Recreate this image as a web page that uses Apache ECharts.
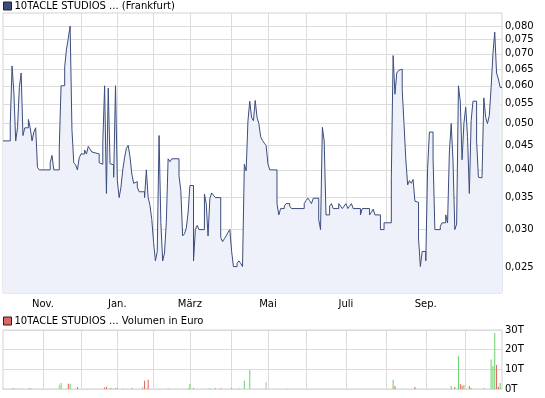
<!DOCTYPE html>
<html><head><meta charset="utf-8">
<script src="https://cdn.jsdelivr.net/npm/echarts@6/dist/echarts.min.js"></script>
<style>html,body{margin:0;padding:0;background:#fff}#c{width:545px;height:398px}</style>
</head><body><div id="c"></div>
<script>
// Trading calendar (Frankfurt), one category per trading day
const startDate = '2009-10-01';
const endDate = '2010-10-29';
const holidays = ['2009-12-24', '2009-12-25', '2009-12-31', '2010-01-01', '2010-04-02', '2010-04-05'];
const monthNames = ['Jan.', 'Feb.', 'März', 'Apr.', 'Mai', 'Juni', 'Juli', 'Aug.', 'Sep.', 'Okt.', 'Nov.', 'Dez.'];
const priceTicks = [0.025, 0.030, 0.035, 0.040, 0.045, 0.050, 0.055, 0.060, 0.065, 0.070, 0.075, 0.080];
const volumeTicks = [0, 10000, 20000, 30000];

const priceName = '10TACLE STUDIOS ... (Frankfurt)';
const volumeName = '10TACLE STUDIOS ... Volumen in Euro';

// Price: trading-day index -> closing price (EUR)
const priceIdx = [0,4,5,6,7,8,9,10,11,12,14,15,16,17,18,19,20,26,27,28,31,32,34,35,36,37,38,39,40,41,42,43,45,46,47,48,49,50,53,54,55,56,57,58,59,60,61,62,63,64,65,66,67,68,69,70,71,72,73,74,75,78,79,80,81,82,83,84,85,86,87,88,89,90,91,92,93,97,98,99,100,101,102,103,105,106,107,108,111,112,113,114,115,116,117,120,121,122,123,124,125,126,127,129,130,131,132,133,134,135,136,137,138,139,140,141,142,143,144,145,146,147,151,152,153,155,156,158,159,166,167,168,169,170,171,174,175,176,177,178,180,181,182,185,186,187,188,189,190,191,192,193,197,198,202,203,204,205,208,210,214,215,216,217,218,219,220,221,222,223,224,225,226,227,228,229,230,231,233,234,235,237,238,241,242,244,245,246,247,248,249,250,251,252,253,254,255,256,257,258,259,261,262,263,264,265,266,267,268,269,270,271,272,273,274,275];
const priceVal = [0.046,0.050,0.066,0.058,0.046,0.049,0.0595,0.0638,0.0472,0.049,0.051,0.049,0.046,0.048,0.049,0.0405,0.040,0.0414,0.0429,0.040,0.0444,0.060,0.0657,0.0716,0.0755,0.080,0.0486,0.0414,0.041,0.040,0.0424,0.0432,0.044,0.0432,0.0448,0.0442,0.0436,0.0432,0.0414,0.0411,0.0457,0.060,0.0357,0.0593,0.0412,0.041,0.0386,0.060,0.038,0.035,0.0368,0.040,0.0424,0.0444,0.045,0.0426,0.0392,0.0375,0.0378,0.0368,0.036,0.035,0.040,0.035,0.0337,0.0315,0.0282,0.0258,0.027,0.0472,0.031,0.0258,0.0268,0.031,0.0422,0.0416,0.0422,0.0389,0.0362,0.0291,0.0294,0.0302,0.0325,0.0371,0.0258,0.030,0.0306,0.030,0.0356,0.034,0.0291,0.0348,0.0358,0.0354,0.035,0.0289,0.0283,0.0287,0.0291,0.0296,0.030,0.027,0.0251,0.0255,0.0258,0.0255,0.0251,0.0411,0.0398,0.0507,0.0557,0.0515,0.0507,0.0559,0.0515,0.050,0.0469,0.0461,0.0455,0.045,0.0412,0.040,0.034,0.0322,0.0332,0.0336,0.034,0.0336,0.0332,0.034,0.0345,0.0349,0.0345,0.034,0.0349,0.0315,0.030,0.0491,0.046,0.0322,0.0336,0.034,0.0332,0.034,0.0336,0.0332,0.0336,0.034,0.0332,0.0336,0.034,0.0332,0.0322,0.0332,0.0322,0.0326,0.0331,0.0322,0.030,0.031,0.0386,0.0694,0.0576,0.0638,0.0646,0.065,0.0589,0.050,0.042,0.0372,0.038,0.0375,0.0382,0.0344,0.0342,0.0288,0.0251,0.027,0.0258,0.0403,0.048,0.0425,0.030,0.0305,0.031,0.0322,0.031,0.0436,0.050,0.0418,0.030,0.0308,0.060,0.0557,0.042,0.050,0.0541,0.047,0.0357,0.0507,0.0557,0.046,0.0386,0.0385,0.0389,0.0566,0.0515,0.050,0.052,0.0595,0.070,0.0777,0.0638,0.062,0.0595,0.0593];

// Volume in EUR: trading-day index, value, direction (u = up, d = down, n = unchanged)
const volIdx = [0,5,6,8,10,14,15,31,32,36,37,41,56,57,58,59,60,62,63,66,71,77,78,79,80,91,102,103,105,114,117,120,126,130,133,136,145,157,215,216,227,247,249,251,252,253,254,257,258,265,269,270,271,272,273,274];
const volVal = [300,300,400,300,300,300,400,2200,3000,2700,2700,1000,700,1100,300,400,400,400,400,300,400,1000,4200,300,4700,400,400,2500,400,400,400,400,400,400,4200,9700,3500,400,4700,1500,1000,1500,1000,16700,2500,1700,2000,1500,500,500,15000,11700,28500,12200,1200,3000];
const volDir = ['n','u','d','u','u','u','d','n','u','d','u','d','d','d','n','u','d','d','u','u','d','n','d','u','d','u','u','u','d','u','d','d','d','n','u','u','n','n','u','d','d','u','d','u','d','d','u','d','u','u','u','u','u','d','d','u'];
const dirColor = {u: '#66d166', d: '#e06262', n: '#b8b8b8'};

const categories = [];
for (let d = new Date(startDate + 'T00:00:00Z'); d <= new Date(endDate + 'T00:00:00Z'); d.setUTCDate(d.getUTCDate() + 1)) {
  const wd = d.getUTCDay();
  const s = d.toISOString().slice(0, 10);
  if (wd === 0 || wd === 6 || holidays.includes(s)) continue;
  categories.push(s);
}
const monthOf = s => parseInt(s.slice(5, 7), 10) - 1;
const isMonthStart = i => i > 0 && monthOf(categories[i]) !== monthOf(categories[i - 1]);
const isLabel = i => isMonthStart(i) && monthOf(categories[i]) % 2 === 0;

const priceData = priceIdx.map((i, k) => [categories[i], priceVal[k]]);
const volData = volIdx.map((i, k) => ({value: [categories[i], volVal[k]], itemStyle: {color: dirColor[volDir[k]]}}));

const font = 'DejaVu Sans';
const gridColor = '#dcdcdc';

const chart = echarts.init(document.getElementById('c'), null, {renderer: 'canvas'});
chart.setOption({
  animation: false,
  textStyle: {fontFamily: font},
  legend: [
    {data: [priceName], left: 3, top: 1, padding: 0, icon: 'rect', itemWidth: 8, itemHeight: 8,
     itemStyle: {borderColor: '#222', borderWidth: 1},
     textStyle: {fontSize: 10, fontFamily: font, color: '#000', padding: [0, 0, 0, -2]}},
    {data: [volumeName], left: 3, top: 316, padding: 0, icon: 'rect', itemWidth: 8, itemHeight: 8,
     itemStyle: {color: '#e06666', borderColor: '#222', borderWidth: 1},
     textStyle: {fontSize: 10, fontFamily: font, color: '#000', padding: [0, 0, 0, -2]}}
  ],
  grid: [
    {left: 3, right: 43, top: 13, height: 280, show: true, borderColor: '#d2d2d2', borderWidth: 1},
    {left: 3, right: 43, top: 330, height: 59, show: true, borderColor: '#d2d2d2', borderWidth: 1}
  ],
  xAxis: [
    {gridIndex: 0, type: 'category', data: categories, boundaryGap: false,
     axisLine: {show: false}, axisTick: {show: false},
     axisLabel: {interval: i => isLabel(i), formatter: v => monthNames[monthOf(v)], fontSize: 10, color: '#000', margin: 6, fontFamily: font},
     splitLine: {show: true, interval: i => isMonthStart(i), lineStyle: {color: gridColor, width: 1}}},
    {gridIndex: 1, type: 'category', data: categories, boundaryGap: false,
     axisLine: {show: false}, axisTick: {show: false}, axisLabel: {show: false},
     splitLine: {show: true, interval: i => isMonthStart(i), lineStyle: {color: gridColor, width: 1}}}
  ],
  yAxis: [
    {gridIndex: 0, type: 'log', logBase: 10, position: 'right', min: 0.0221, max: 0.0852,
     axisLine: {show: false}, axisTick: {show: false, customValues: priceTicks},
     axisLabel: {customValues: priceTicks, formatter: v => v.toFixed(3).replace('.', ','), fontSize: 10, color: '#000', margin: 3, fontFamily: font},
     splitLine: {show: true, lineStyle: {color: gridColor, width: 1}}},
    {gridIndex: 1, type: 'value', position: 'right', min: volumeTicks[0], max: volumeTicks[volumeTicks.length - 1], interval: 10000,
     axisLine: {show: false}, axisTick: {show: false},
     axisLabel: {formatter: v => (v / 1000) + 'T', fontSize: 10, color: '#000', margin: 3, fontFamily: font},
     splitLine: {show: true, lineStyle: {color: gridColor, width: 1}}}
  ],
  series: [
    {name: priceName, type: 'line', xAxisIndex: 0, yAxisIndex: 0, data: priceData, step: 'end',
     symbol: 'none', itemStyle: {color: '#3b4d7c'},
     lineStyle: {color: '#3b4d7c', width: 1},
     areaStyle: {color: '#eef1f9', opacity: 1, origin: 'start'}},
    {name: volumeName, type: 'bar', xAxisIndex: 1, yAxisIndex: 1, data: volData, barWidth: 1,
     itemStyle: {color: '#e06666'}}
  ]
});
</script></body></html>
